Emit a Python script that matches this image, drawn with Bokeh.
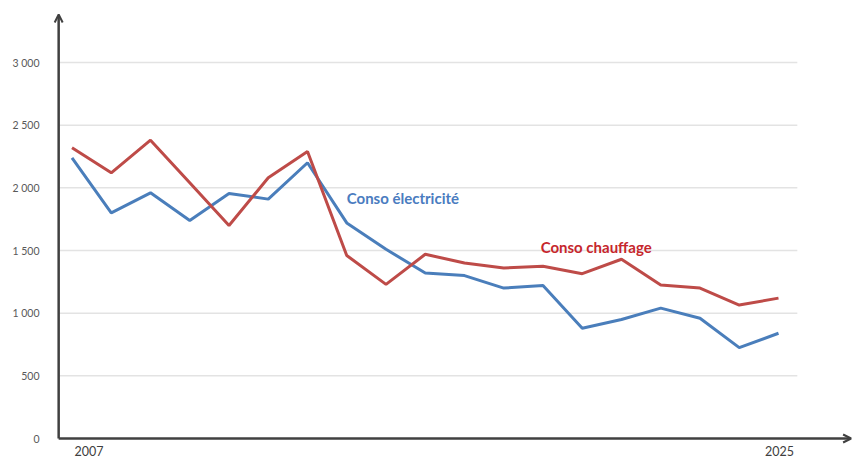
from bokeh.plotting import figure
from bokeh.models import Range1d, FixedTicker, Arrow, OpenHead
from bokeh.core.properties import value
from bokeh.embed import file_html
from bokeh.resources import INLINE

# ---- data ----
years = list(range(2007, 2026))
conso_electricite = [2240, 1800, 1960, 1740, 1955, 1910, 2200, 1720, 1510, 1320,
                     1300, 1200, 1220, 880, 950, 1040, 960, 725, 840]
conso_chauffage = [2320, 2120, 2380, 2040, 1700, 2080, 2290, 1460, 1230, 1470,
                   1400, 1360, 1375, 1315, 1430, 1225, 1200, 1065, 1120]
y_ticks = [0, 500, 1000, 1500, 2000, 2500, 3000]
y_tick_labels = ["0", "500", "1 000", "1 500", "2 000", "2 500", "3 000"]
x_label_years = [2007, 2025]
x_labels = ["2007", "2025"]
series_names = ["Conso électricité", "Conso chauffage"]

# ---- layout constants ----
X0, X1 = 2006.503, 2026.911
Y0, Y1 = -167.5, 3494.7
AXIS_X = 2006.66
GRID_X1 = 2025.48
ARROW_Y_TOP = 3383
ARROW_X_END = 2026.85

BLUE = "#4a7ebb"
RED = "#be4b48"
AXIS_COL = "#404040"
FONT = "Lato"

p = figure(width=853, height=459, x_range=Range1d(X0, X1), y_range=Range1d(Y0, Y1),
           output_backend="svg", toolbar_location=None, x_axis_location=None,
           min_border_left=52, min_border_right=0, min_border_top=0, min_border_bottom=0)
p.outline_line_color = None
p.grid.visible = False
p.background_fill_color = "white"
p.border_fill_color = "white"

ax = p.yaxis[0]
ax.ticker = FixedTicker(ticks=y_ticks)
ax.major_label_overrides = {t: l for t, l in zip(y_ticks, y_tick_labels)}
ax.axis_line_color = None
ax.major_tick_line_color = None
ax.minor_tick_line_color = None
ax.major_tick_in = 0
ax.major_tick_out = 0
ax.major_label_standoff = 13
ax.major_label_text_font = FONT
ax.major_label_text_font_size = "10.5px"
ax.major_label_text_color = "#595959"

# gridlines
grid_y = y_ticks[1:]
p.segment(x0=[AXIS_X] * len(grid_y), y0=grid_y, x1=[GRID_X1] * len(grid_y), y1=grid_y,
          line_color="#e3e3e3", line_width=1.5)

# series
p.line(years, conso_electricite, line_color=BLUE, line_width=3)
p.line(years, conso_chauffage, line_color=RED, line_width=3)

# series labels
p.text(x=[2014.0], y=[1915], text=[series_names[0]], text_color="#4a7cc0",
       text_font=value(FONT), text_font_style="bold", text_font_size="15px",
       text_baseline="middle", text_align="left")
p.text(x=[2018.94], y=[1530], text=[series_names[1]], text_color="#c6262c",
       text_font=value(FONT), text_font_style="bold", text_font_size="15px",
       text_baseline="middle", text_align="left")

# year labels
p.text(x=x_label_years, y=[-100, -100], text=x_labels, x_offset=[17, 1],
       text_color="#404040", text_font=value(FONT), text_font_size="12.5px",
       text_baseline="middle", text_align="center")

# axes with arrows
p.add_layout(Arrow(end=OpenHead(size=8, line_color=AXIS_COL, line_width=2),
                   x_start=AXIS_X, y_start=0, x_end=AXIS_X, y_end=ARROW_Y_TOP,
                   line_color=AXIS_COL, line_width=2.5))
p.add_layout(Arrow(end=OpenHead(size=8, line_color=AXIS_COL, line_width=2),
                   x_start=AXIS_X, y_start=0, x_end=ARROW_X_END, y_end=0,
                   line_color=AXIS_COL, line_width=2.5))

open("out.html", "w").write(file_html(p, INLINE))
